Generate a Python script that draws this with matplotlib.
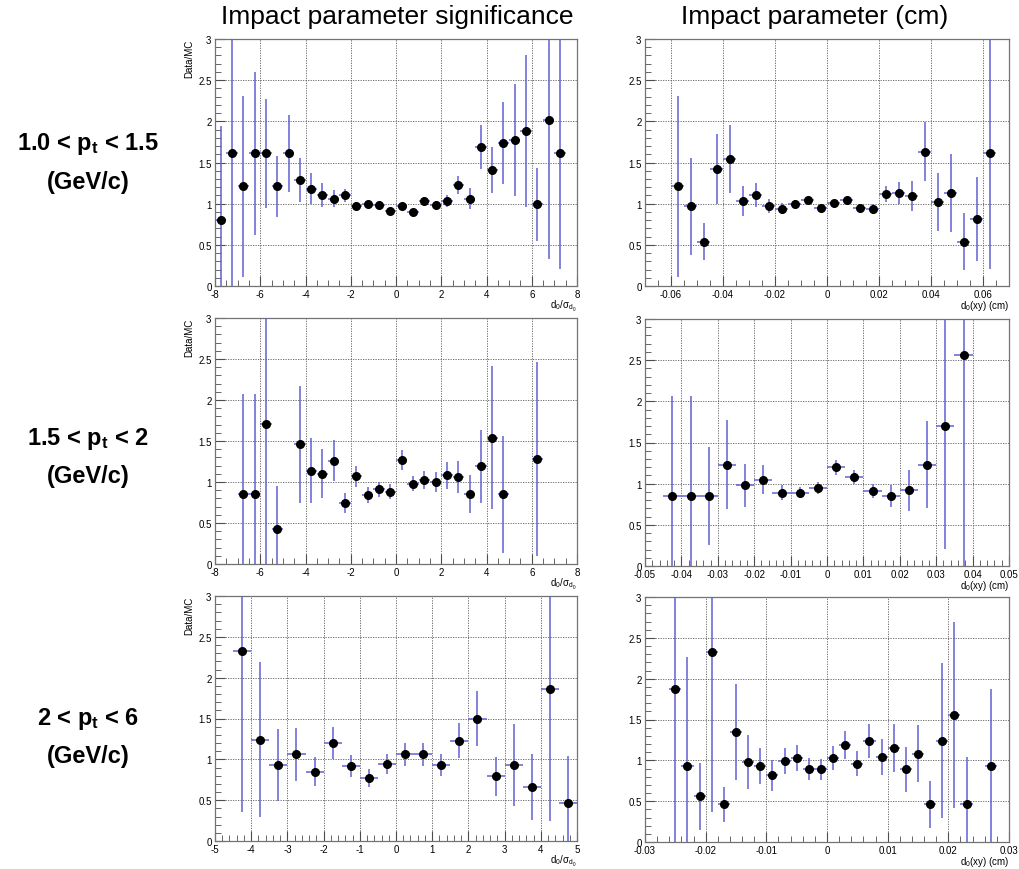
import numpy as np
import matplotlib
matplotlib.use('Agg')
import matplotlib.pyplot as plt
from matplotlib.ticker import MultipleLocator, FuncFormatter

plt.rcParams['font.family'] = ['Liberation Sans', 'DejaVu Sans']
plt.rcParams['mathtext.fontset'] = 'custom'
plt.rcParams['mathtext.rm'] = 'Liberation Sans'
plt.rcParams['mathtext.it'] = 'Liberation Sans'
plt.rcParams['mathtext.bf'] = 'Liberation Sans:bold'
plt.rcParams['axes.unicode_minus'] = False

# 1.0 < pt < 1.5, significance
sig1_x = [-7.75, -7.25, -6.75, -6.25, -5.75, -5.25, -4.75, -4.25, -3.75, -3.25, -2.75,
          -2.25, -1.75, -1.25, -0.75, -0.25, 0.25, 0.75, 1.25, 1.75, 2.25, 2.75, 3.25,
          3.75, 4.25, 4.75, 5.25, 5.75, 6.25, 6.75, 7.25]
sig1_y = [0.80, 1.61, 1.21, 1.61, 1.61, 1.21, 1.61, 1.29, 1.18, 1.11, 1.06,
          1.10, 0.97, 0.99, 0.98, 0.91, 0.97, 0.90, 1.03, 0.98, 1.03, 1.23, 1.06,
          1.69, 1.41, 1.74, 1.77, 1.88, 0.99, 2.02, 1.61]
sig1_err = [1.14, 2.0, 1.10, 0.99, 0.66, 0.37, 0.47, 0.27, 0.19, 0.146, 0.103,
            0.078, 0.05, 0.04, 0.04, 0.035, 0.04, 0.03, 0.04, 0.05, 0.07, 0.107, 0.126,
            0.27, 0.28, 0.50, 0.68, 0.92, 0.446, 1.69, 1.40]

# 1.0 < pt < 1.5, d0 (cm)
d01_x = [-0.0575, -0.0525, -0.0475, -0.0425, -0.0375, -0.0325, -0.0275, -0.0225, -0.0175,
         -0.0125, -0.0075, -0.0025, 0.0025, 0.0075, 0.0125, 0.0175, 0.0225, 0.0275,
         0.0325, 0.0375, 0.0425, 0.0475, 0.0525, 0.0575, 0.0625]
d01_y = [1.21, 0.97, 0.54, 1.42, 1.54, 1.03, 1.11, 0.97, 0.94,
         0.99, 1.04, 0.95, 1.01, 1.04, 0.95, 0.93, 1.12, 1.13,
         1.09, 1.63, 1.02, 1.13, 0.54, 0.81, 1.61]
d01_err = [1.10, 0.59, 0.22, 0.43, 0.41, 0.18, 0.146, 0.087, 0.07,
           0.05, 0.04, 0.03, 0.03, 0.04, 0.05, 0.06, 0.097, 0.13,
           0.18, 0.36, 0.35, 0.47, 0.35, 0.51, 1.40]

# 1.5 < pt < 2, significance
sig2_x = [-6.75, -6.25, -5.75, -5.25, -4.25, -3.75, -3.25, -2.75, -2.25, -1.75, -1.25,
          -0.75, -0.25, 0.25, 0.75, 1.25, 1.75, 2.25, 2.75, 3.25, 3.75, 4.25, 4.75, 6.25]
sig2_y = [0.85, 0.85, 1.71, 0.43, 1.46, 1.14, 1.10, 1.26, 0.74, 1.07, 0.84,
          0.91, 0.88, 1.27, 0.98, 1.02, 1.00, 1.08, 1.06, 0.85, 1.19, 1.54, 0.85, 1.28]
sig2_err = [1.22, 1.22, 1.75, 0.52, 0.71, 0.40, 0.30, 0.25, 0.12, 0.13, 0.10,
            0.09, 0.09, 0.12, 0.09, 0.11, 0.12, 0.16, 0.20, 0.23, 0.44, 0.87, 0.71, 1.18]

# 1.5 < pt < 2, d0 (cm)
d02_x = [-0.0425, -0.0375, -0.0325, -0.0275, -0.0225, -0.0175, -0.0125, -0.0075, -0.0025,
         0.0025, 0.0075, 0.0125, 0.0175, 0.0225, 0.0275, 0.0325, 0.0375]
d02_y = [0.85, 0.85, 0.85, 1.23, 0.98, 1.05, 0.89, 0.89, 0.95,
         1.20, 1.08, 0.91, 0.85, 0.92, 1.23, 1.70, 2.56]
d02_err = [1.22, 1.22, 0.60, 0.54, 0.26, 0.18, 0.09, 0.07, 0.07,
           0.09, 0.09, 0.09, 0.13, 0.25, 0.53, 1.49, 2.60]

# 2 < pt < 6, significance
sig3_x = [-4.25, -3.75, -3.25, -2.75, -2.25, -1.75, -1.25, -0.75, -0.25, 0.25,
          0.75, 1.25, 1.75, 2.25, 2.75, 3.25, 3.75, 4.25, 4.75]
sig3_y = [2.33, 1.24, 0.93, 1.06, 0.85, 1.20, 0.92, 0.77, 0.94, 1.06,
          1.06, 0.93, 1.23, 1.50, 0.79, 0.93, 0.66, 1.86, 0.46]
sig3_err = [1.97, 0.95, 0.44, 0.32, 0.18, 0.20, 0.135, 0.11, 0.125, 0.137,
            0.14, 0.14, 0.21, 0.335, 0.235, 0.50, 0.40, 1.62, 0.58]

# 2 < pt < 6, d0 (cm)
d03_x = [-0.025, -0.023, -0.021, -0.019, -0.017, -0.015, -0.013, -0.011, -0.009, -0.007,
         -0.005, -0.003, -0.001, 0.001, 0.003, 0.005, 0.007, 0.009, 0.011, 0.013,
         0.015, 0.017, 0.019, 0.021, 0.023, 0.027]
d03_y = [1.87, 0.93, 0.56, 2.33, 0.46, 1.35, 0.98, 0.93, 0.82, 0.99,
         1.03, 0.89, 0.89, 1.03, 1.19, 0.96, 1.24, 1.04, 1.15, 0.89,
         1.08, 0.46, 1.24, 1.56, 0.46, 0.93]
d03_err = [1.90, 1.33, 0.41, 1.96, 0.21, 0.59, 0.33, 0.215, 0.19, 0.16,
           0.16, 0.135, 0.13, 0.145, 0.175, 0.15, 0.21, 0.22, 0.29, 0.275,
           0.35, 0.29, 0.95, 1.14, 0.58, 0.94]

row_labels = [r'1.0 < p$_{\mathbf{t}}$ < 1.5', r'1.5 < p$_{\mathbf{t}}$ < 2', r'2 < p$_{\mathbf{t}}$ < 6']
sig_label = r'd$_0$/$\sigma_{d_0}$'
d0_label = r'd$_0$(xy) (cm)'

W, H = 1019, 870
fig = plt.figure(figsize=(W / 100, H / 100), dpi=100)

# plain numbers like ROOT: 0, 0.5, 1, -0.02 ...
fmt = FuncFormatter(lambda v, p: f'{round(v, 8):g}' if abs(v) > 1e-12 else '0')


def rect(l, r, t, b):
    return [l / W, 1 - b / H, (r - l) / W, (b - t) / H]


def draw(ax, x, y, err, half, xlim, major, minor, xlabel, ylabel):
    ax.errorbar(x, y, xerr=half, yerr=err, fmt='o', color='black', ms=5.5,
                ecolor=(0.38, 0.38, 0.82), elinewidth=1.1, capsize=0, zorder=3)
    ax.set_xlim(*xlim)
    ax.set_ylim(0, 3)
    ax.xaxis.set_major_locator(MultipleLocator(major))
    ax.xaxis.set_minor_locator(MultipleLocator(minor))
    ax.yaxis.set_major_locator(MultipleLocator(0.5))
    ax.yaxis.set_minor_locator(MultipleLocator(0.1))
    ax.xaxis.set_major_formatter(fmt)
    ax.yaxis.set_major_formatter(fmt)
    ax.grid(True, which='major', linestyle=(0, (1.5, 1.5)), color='0.35', linewidth=0.6)
    ax.tick_params(which='both', direction='in', labelsize=7, color='0.3',
                   top=False, right=False, pad=2.5)
    ax.tick_params(which='major', length=7)
    ax.tick_params(which='minor', length=4)
    for s in ax.spines.values():
        s.set_color('0.45')
        s.set_linewidth(0.9)
    ax.text(1.0, -0.05, xlabel, transform=ax.transAxes, ha='right', va='top', fontsize=7)
    if ylabel:
        ax.set_ylabel('Data/MC', loc='top', fontsize=7, labelpad=3)
    ax.set_axisbelow(True)


ax = fig.add_axes(rect(215, 577, 40, 287))
draw(ax, sig1_x, sig1_y, sig1_err, 0.25, (-8, 8), 2, 0.5, sig_label, True)
ax = fig.add_axes(rect(645, 1009, 40, 287))
draw(ax, d01_x, d01_y, d01_err, 0.0025, (-0.07, 0.07), 0.02, 0.005, d0_label, False)

ax = fig.add_axes(rect(215, 577, 319, 565))
draw(ax, sig2_x, sig2_y, sig2_err, 0.25, (-8, 8), 2, 0.5, sig_label, True)
ax = fig.add_axes(rect(645, 1009, 320, 567))
draw(ax, d02_x, d02_y, d02_err, 0.0025, (-0.05, 0.05), 0.01, 0.002, d0_label, False)

ax = fig.add_axes(rect(215, 577, 597, 842))
draw(ax, sig3_x, sig3_y, sig3_err, 0.25, (-5, 5), 1, 0.2, sig_label, True)
ax = fig.add_axes(rect(645, 1009, 598, 843))
draw(ax, d03_x, d03_y, d03_err, 0.001, (-0.03, 0.03), 0.01, 0.002, d0_label, False)

fig.text(397 / W, 1 - 17 / H, 'Impact parameter significance', ha='center', va='center', fontsize=19)
fig.text(815 / W, 1 - 17 / H, 'Impact parameter (cm)', ha='center', va='center', fontsize=19)

for yc, lab in zip([163, 458, 738], row_labels):
    fig.text(88 / W, 1 - (yc - 19) / H, lab, ha='center', va='center', fontsize=17, fontweight='bold')
    fig.text(88 / W, 1 - (yc + 19) / H, '(GeV/c)', ha='center', va='center', fontsize=17, fontweight='bold')

fig.savefig('out.png', dpi=100)
